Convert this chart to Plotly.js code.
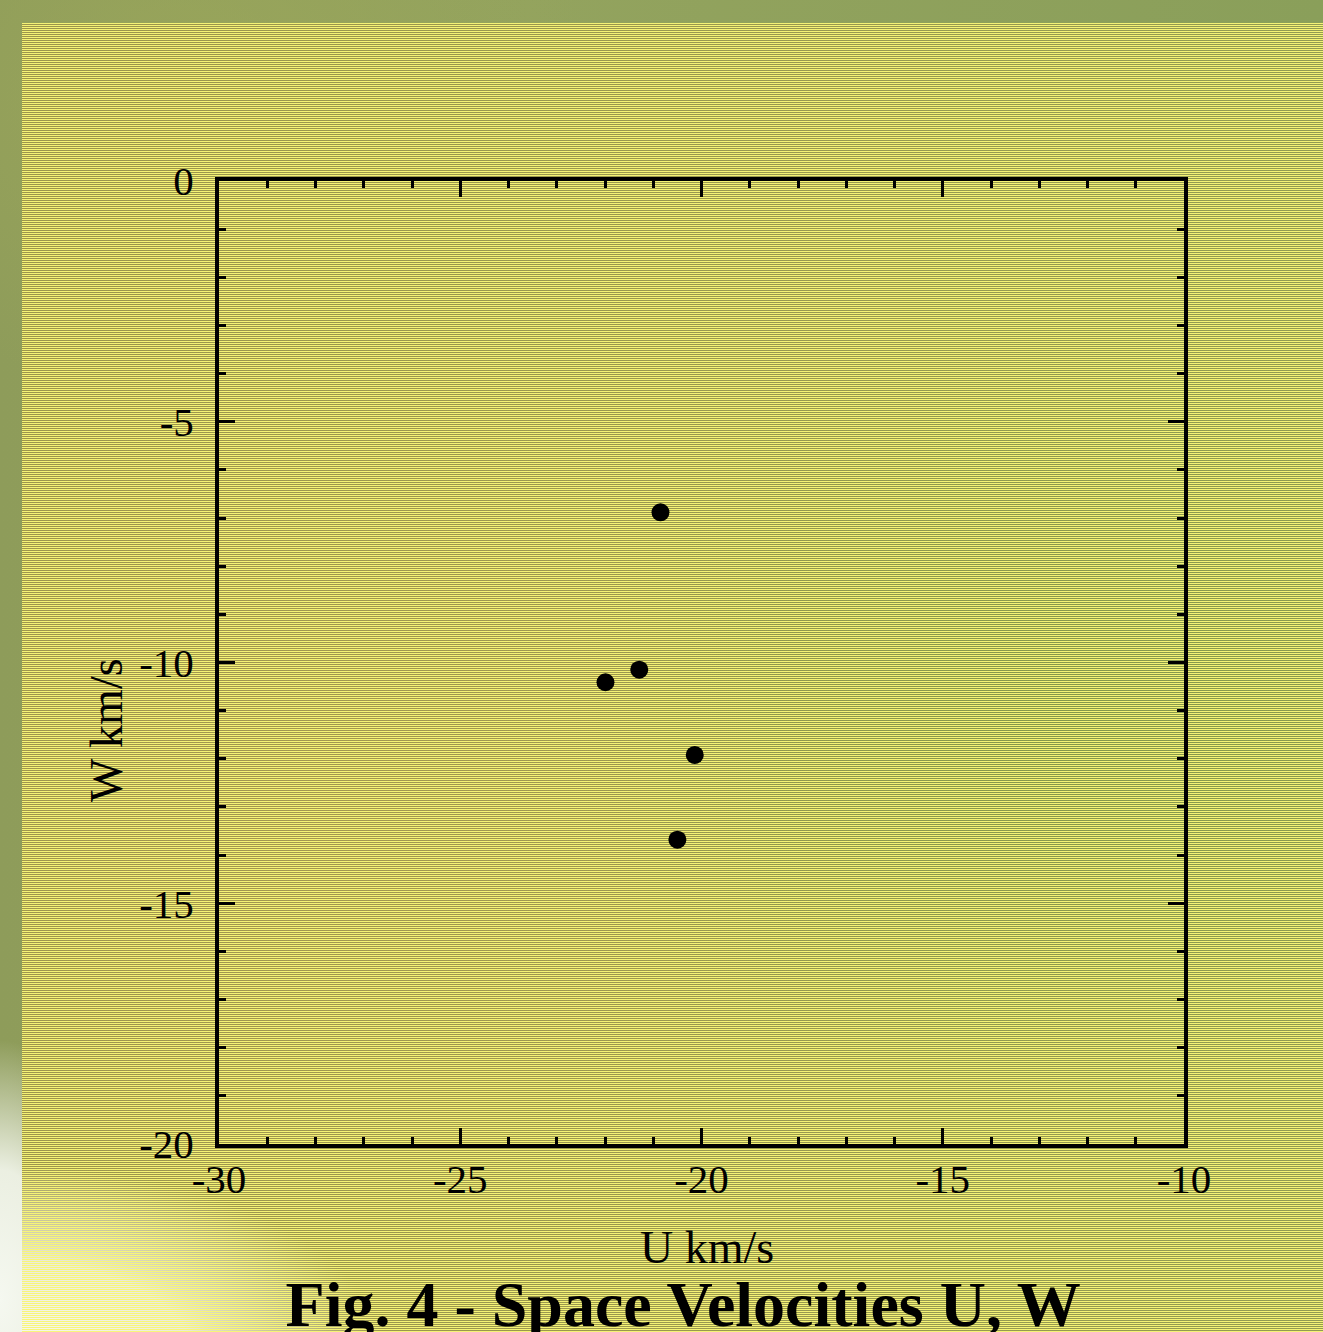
<!DOCTYPE html>
<html>
<head>
<meta charset="utf-8">
<script src="https://cdn.plot.ly/plotly-3.0.1.min.js"></script>
<style>
  html, body { margin: 0; padding: 0; }
  body {
    width: 1323px; height: 1332px; overflow: hidden; position: relative;
    background:
      radial-gradient(ellipse 120px 260px at 0px 1300px, rgba(245,248,240,1), rgba(245,248,240,0.9) 50%, rgba(245,248,240,0) 100%),
      radial-gradient(ellipse 400px 300px at 200px 100px, rgba(160,170,90,0.6), rgba(160,170,90,0) 100%),
      linear-gradient(90deg, #8e9c5a 0%, #93a35e 40%, #8a9f5a 100%);
  }
  #bgimg {
    position: absolute; left: 22px; top: 23px; right: 0; bottom: 0;
    background:
      repeating-linear-gradient(to bottom, rgba(248,246,118,0.97) 0px, rgba(248,246,118,0.97) 1px, rgba(0,0,0,0) 1px, rgba(0,0,0,0) 2px),
      radial-gradient(ellipse 380px 190px at -20px 1332px, rgba(250,250,240,1), rgba(250,250,240,0.85) 50%, rgba(250,250,240,0) 100%),
      radial-gradient(ellipse 500px 400px at 1050px 700px, rgba(115,150,70,0.5), rgba(115,150,70,0) 100%),
      radial-gradient(ellipse 500px 500px at 300px 800px, rgba(175,150,85,0.45), rgba(175,150,85,0) 100%),
      linear-gradient(90deg, #9c954c 0%, #9a984f 50%, #929b52 100%);
  }
  #chart { position: absolute; left: 0; top: 0; width: 1323px; height: 1332px; }
</style>
</head>
<body>
<div id="bgimg"></div>
<div id="chart"></div>
<script>
// Space velocities (km/s)
const uValues = [-20.85, -21.29, -21.99, -20.14, -20.50];
const wValues = [-6.88, -10.15, -10.41, -11.92, -13.68];

const xTickVals = [-30, -25, -20, -15, -10];
const xTickText = ['-30', '-25', '-20', '-15', '-10'];
const yTickVals = [0, -5, -10, -15, -20];
const yTickText = ['0', '-5', '-10', '-15', '-20'];

const titleText = '<b>Fig. 4 - Space Velocities U, W</b>';
const xTitle = 'U km/s';
const yTitle = 'W km/s';

const serif = 'Liberation Serif, Times New Roman, serif';

const trace = {
  x: uValues,
  y: wValues,
  type: 'scatter',
  mode: 'markers',
  marker: { color: 'black', size: 18, line: { width: 0 } },
  hoverinfo: 'x+y'
};

const axisCommon = {
  showgrid: false,
  zeroline: false,
  showline: true,
  linecolor: 'black',
  linewidth: 4,
  mirror: 'allticks',
  ticks: 'inside',
  ticklen: 16,
  tickwidth: 3,
  tickcolor: 'black',
  tickmode: 'array',
  tickfont: { family: serif, size: 41, color: 'black' },
  minor: { ticks: 'inside', dtick: 1, ticklen: 7, tickwidth: 3, tickcolor: 'black', showgrid: false },
  fixedrange: true
};

const layout = {
  width: 1323,
  height: 1332,
  paper_bgcolor: 'rgba(0,0,0,0)',
  plot_bgcolor: 'rgba(0,0,0,0)',
  showlegend: false,
  margin: { l: 219, r: 139, t: 181, b: 188, pad: 0 },
  title: {
    text: titleText,
    font: { family: serif, size: 64, color: 'black' },
    xref: 'paper', x: 0.481, xanchor: 'center',
    yref: 'container', y: 0.0215, yanchor: 'middle'
  },
  xaxis: Object.assign({}, axisCommon, {
    range: [-30, -10],
    tickvals: xTickVals,
    ticktext: xTickText,
    ticklabelstandoff: -4
  }),
  yaxis: Object.assign({}, axisCommon, {
    range: [-20, 0],
    tickvals: yTickVals,
    ticktext: yTickText,
    ticklabelstandoff: 13
  }),
  annotations: [
    {
      text: xTitle, xref: 'paper', yref: 'paper',
      x: 0.506, y: -0.107, xanchor: 'center', yanchor: 'middle',
      showarrow: false, font: { family: serif, size: 46, color: 'black' }
    },
    {
      text: yTitle, xref: 'paper', yref: 'paper', textangle: -90,
      x: -0.116, y: 0.43, xanchor: 'center', yanchor: 'middle',
      showarrow: false, font: { family: serif, size: 46, color: 'black' }
    }
  ]
};

Plotly.newPlot('chart', [trace], layout, { displayModeBar: false, staticPlot: true });
</script>
</body>
</html>
